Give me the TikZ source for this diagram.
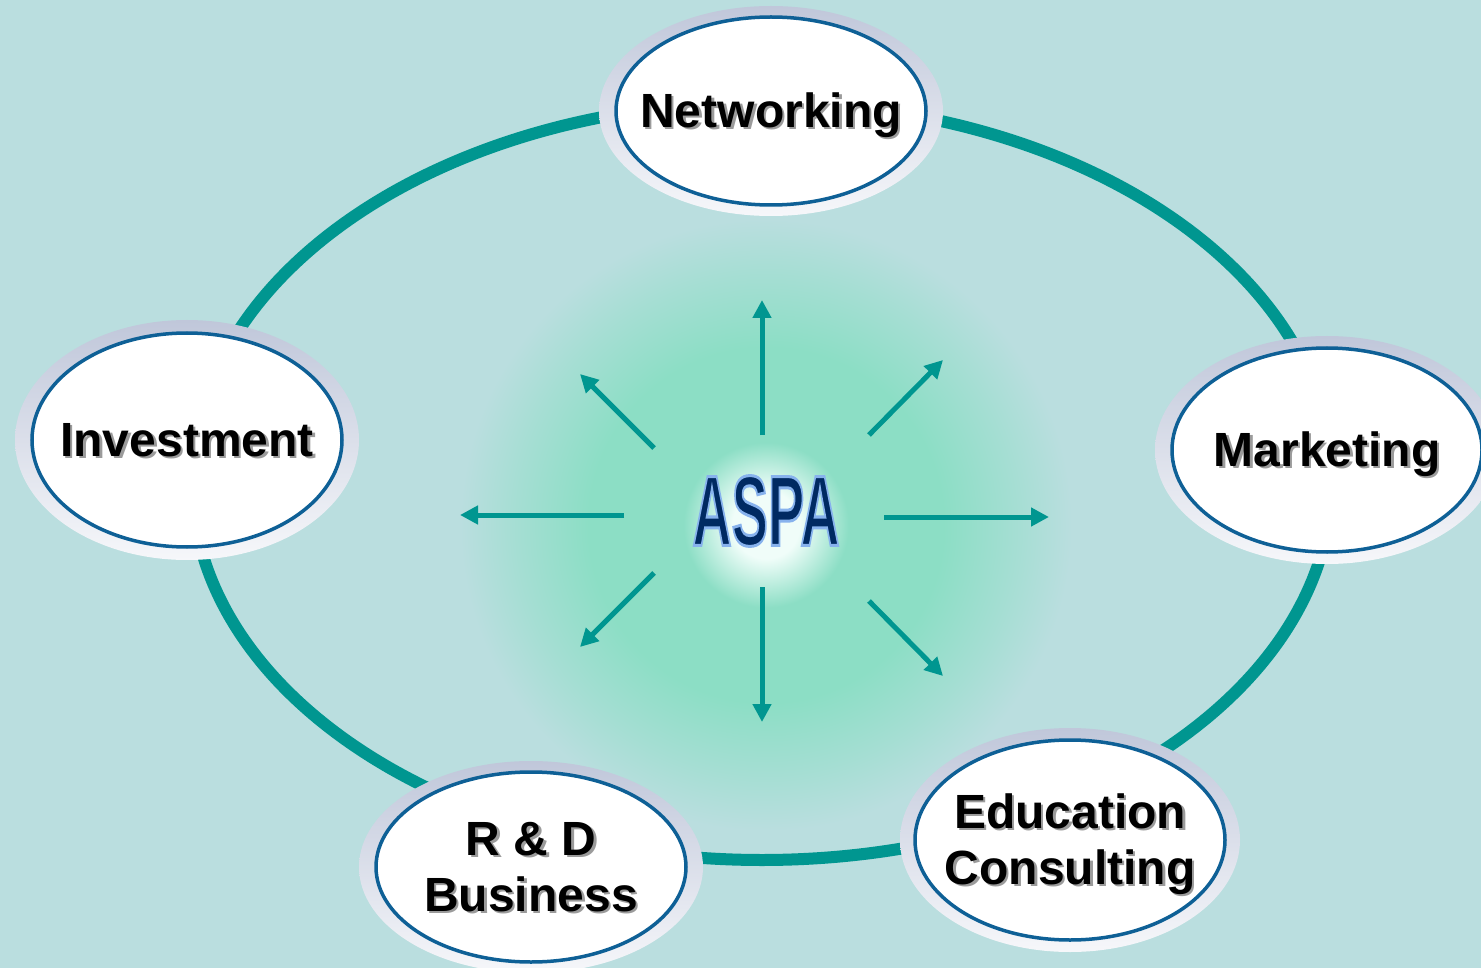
\documentclass[tikz,border=0pt]{standalone}
\usepackage{fontspec}
\usepackage{graphicx}
\setmainfont{Liberation Sans}
\newfontfamily\policesigle[FakeBold=3]{Liberation Sans Bold}
\usetikzlibrary{arrows.meta,shapes.geometric}
\definecolor{fond}{RGB}{186,222,223}
\definecolor{anneau}{RGB}{0,150,144}
\definecolor{bordbleu}{RGB}{14,96,150}
\definecolor{halohaut}{RGB}{192,199,218}
\definecolor{halobas}{RGB}{246,247,250}
\definecolor{menthe}{RGB}{140,222,197}
\definecolor{coeur}{RGB}{240,253,249}
\definecolor{marine}{RGB}{0,42,98}
\definecolor{ombregris}{RGB}{155,155,155}
\pgfdeclareradialshading{lueur}{\pgfpoint{0bp}{0bp}}{color(0bp)=(coeur); color(1.1bp)=(coeur); color(2.7bp)=(menthe); color(5.8bp)=(menthe); color(8.2bp)=(menthe!45!fond); color(10bp)=(fond); color(50bp)=(fond)}
\newcommand{\ombre}[1]{\leavevmode\rlap{\hspace{2.5pt}\raisebox{-2.5pt}{\color{ombregris}#1}}#1}
\newcommand{\libelle}[1]{\makebox[0pt]{\raisebox{-5pt}[\height][\depth]{\begin{tabular}{@{}c@{}}#1\end{tabular}}}}
\newcommand{\lisere}[1]{\special{pdf:literal direct 0.53 0.70 0.93 RG}#1}
\begin{document}
\begin{tikzpicture}[x=1pt,y=-1pt]
	\tikzstyle{bulle}=[ellipse,draw=bordbleu,line width=3.5pt,fill=white,minimum width=310pt,inner sep=0pt,font=\fontsize{48pt}{56pt}\selectfont\bfseries]
	\tikzstyle{halo}=[top color=halohaut,bottom color=halobas]
	\tikzstyle{fleche}=[-{Triangle[length=18pt,width=18pt]},line width=5pt,draw=anneau]
	\tikzstyle{sigle}=[inner sep=0pt,text=marine,font=\fontsize{100pt}{100pt}\policesigle]
	\def\RayonA{570}\def\RayonB{379}\def\Lueur{765}
	\useasboundingbox (0,0) rectangle (1481,968);
	\clip (0,0) rectangle (1481,968);
	\fill[fond] (0,0) rectangle (1481,968);
	\fill[shading=lueur] (766-\Lueur,525-\Lueur) rectangle (766+\Lueur,525+\Lueur);
	\draw[anneau,line width=12pt] (762,481) ellipse [x radius=\RayonA, y radius=\RayonB];
	\foreach \xa/\ya/\xb/\yb [count=\i] in {762/435/762/300, 869/435/943/360, 884/517/1049/517, 869/601/943/676, 762/587/762/722, 654/573/580/647, 624/515/460/515, 654/448/580/374}
	{
		\coordinate (t\i) at (\xa,\ya);
		\coordinate (p\i) at (\xb,\yb);
		\draw[fleche] (t\i) -- (p\i);
	}
	\node[sigle] (aspa) at (766,511) {\scalebox{0.545}[1]{\lisere{ASPA}}};
	\coordinate (cnet) at (771,111);
	\coordinate (cinv) at (187,440);
	\coordinate (cmar) at (1327,450);
	\coordinate (crd) at (531,867);
	\coordinate (cedu) at (1070,840);
	\shade[halo] (cnet) ellipse [x radius=172, y radius=105];
	\shade[halo] (cinv) ellipse [x radius=172, y radius=120];
	\shade[halo] (cmar) ellipse [x radius=172, y radius=114];
	\shade[halo] (crd) ellipse [x radius=172, y radius=106];
	\shade[halo] (cedu) ellipse [x radius=170, y radius=112];
	\node[bulle,minimum height=188pt] (net) at (cnet) {\libelle{\ombre{Networking}}};
	\node[bulle,minimum height=214pt] (inv) at (cinv) {\libelle{\ombre{Investment}}};
	\node[bulle,minimum height=204pt] (mar) at (cmar) {\libelle{\ombre{Marketing}}};
	\node[bulle,minimum height=190pt] (rd) at (crd) {\libelle{\ombre{R \& D}\\\ombre{Business}}};
	\node[bulle,minimum height=200pt] (edu) at (cedu) {\libelle{\ombre{Education}\\\ombre{Consulting}}};
\end{tikzpicture}
\end{document}
